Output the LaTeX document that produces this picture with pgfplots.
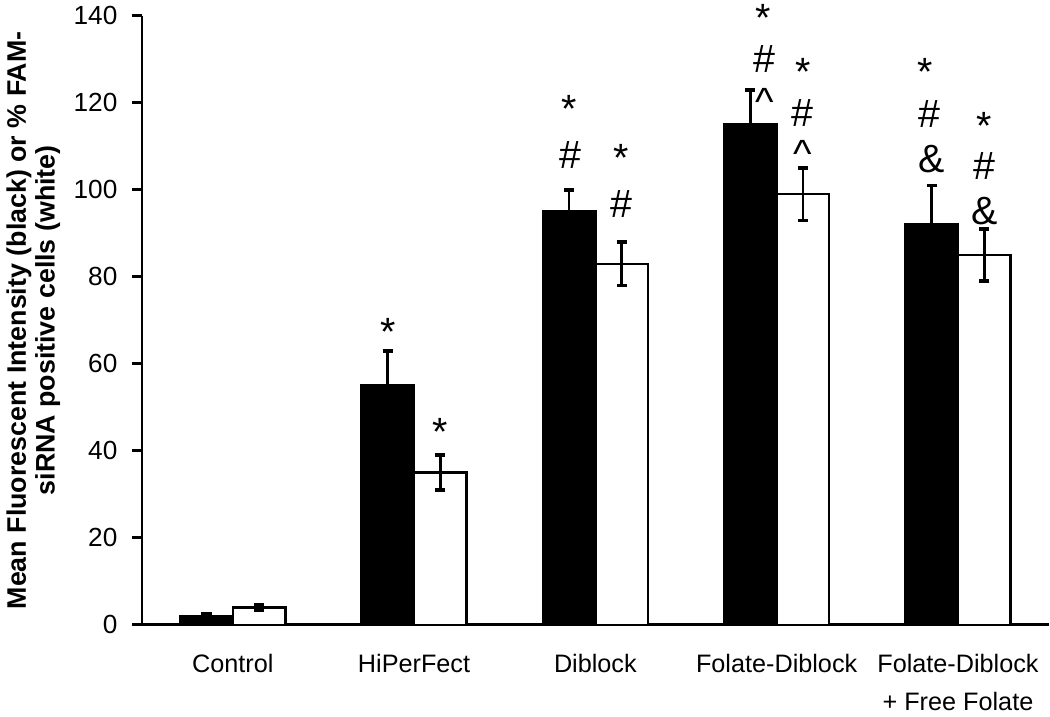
\documentclass[border=0pt]{standalone}
\usepackage{fontspec}
\setmainfont{Liberation Sans}
\usepackage{pgfplots}
\pgfplotsset{compat=1.18}
\usepackage{pgfplotstable}

% black = mean fluorescent intensity, white = % FAM-siRNA positive cells
\pgfplotstableread{
x  mfi  mfierr  pct  pcterr
0  2    0.6     4    0.7
1  55   8       35   4
2  95   5       83   5
3  115  8       99   6
4  92   9       85   6
}\datatable

\begin{document}
\begin{tikzpicture}
\begin{axis}[
  scale only axis,
  width=460pt, height=309pt,
  ybar=0pt, bar width=0.29,
  xmin=-0.5, xmax=4.5,
  ymin=0, ymax=140,
  axis lines*=left,
  axis line style={line width=1.4pt},
  every tick/.style={black, line width=1.4pt},
  tick align=outside,
  major tick length=5pt,
  xtick={0,1,2,3,4},
  x tick style={draw=none},
  minor xtick={-0.5,0.5,1.5,2.5,3.5,4.5},
  minor tick length=5pt,
  minor x tick style={black, line width=1.4pt},
  xticklabels={Control,HiPerFect,Diblock,Folate-Diblock,{Folate-Diblock\\[-1pt]+ Free Folate}},
  x tick label style={align=center, font=\fontsize{12.8}{20}\selectfont, yshift=-6.5pt},
  ytick={0,20,...,140},
  y tick label style={font=\fontsize{13.3}{15}\selectfont, xshift=-4pt},
  /pgf/number format/assume math mode=true,
  ylabel={Mean Fluorescent Intensity (black) or \% FAM-\\siRNA positive cells (white)},
  ylabel style={align=center, font=\bfseries\fontsize{13.6}{14.5}\selectfont, yshift=0pt},
  clip=false,
  error bars/error bar style={line width=1.4pt},
  error bars/error mark options={rotate=90, mark size=2.6pt, line width=1.8pt},
]
\addplot[fill=black, draw=black, line width=1.2pt,
  error bars/.cd, y dir=both, y explicit]
  table[x=x, y=mfi, y error=mfierr] {\datatable};
\addplot[fill=white, draw=black, line width=1.2pt,
  error bars/.cd, y dir=both, y explicit]
  table[x=x, y=pct, y error=pcterr] {\datatable};

\begin{scope}[every node/.style={font=\fontsize{20}{20}\selectfont, inner sep=0pt}]
% HiPerFect
\node at (0.855,67.4) {*};
\node at (1.145,44.4) {*};
% Diblock
\node at (1.855,118.5) {*};
\node at (1.865,108) {\#};
\node at (2.145,107.4) {*};
\node at (2.145,96.8) {\#};
% Folate-Diblock
\node at (2.925,139.6) {*};
\node at (2.935,130.1) {\#};
\node at (2.935,120.1) {\textasciicircum};
\node at (3.145,127.2) {*};
\node at (3.145,117.7) {\#};
\node at (3.145,108.2) {\textasciicircum};
% Folate-Diblock + Free Folate
\node at (3.82,127) {*};
\node at (3.845,117.5) {\#};
\node at (3.855,107) {\&};
\node at (4.145,114.6) {*};
\node at (4.145,105.5) {\#};
\node at (4.145,95.2) {\&};
\end{scope}
\end{axis}
\end{tikzpicture}
\end{document}
